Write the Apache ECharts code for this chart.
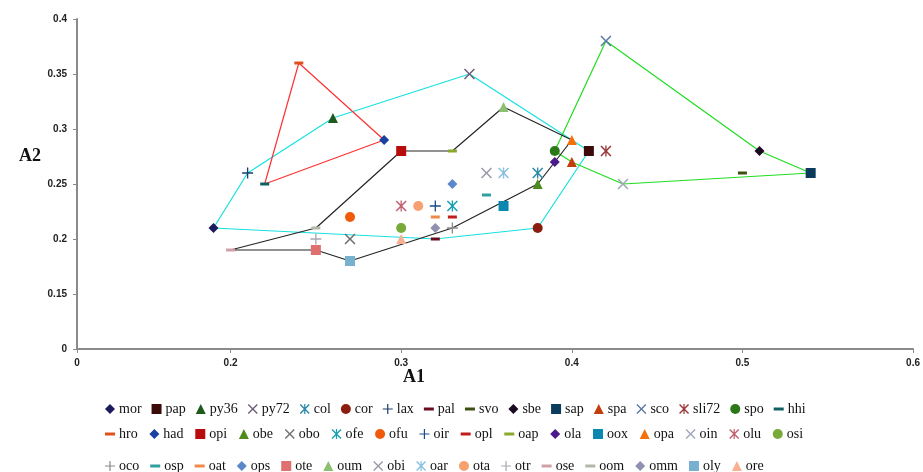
<!DOCTYPE html>
<html><head><meta charset="utf-8">
<script src="https://cdn.jsdelivr.net/npm/echarts@6/dist/echarts.min.js"></script>
<style>html,body{margin:0;padding:0;background:#fff}#c{width:923px;height:472px}</style>
</head><body><div id="c"></div>
<script>
// ---- data ----
const species = ['mor','pap','py36','py72','col','cor','lax','pal','svo','sbe','sap','spa','sco','sli72','spo','hhi',
 'hro','had','opi','obe','obo','ofe','ofu','oir','opl','oap','ola','oox','opa','oin','olu','osi',
 'oco','osp','oat','ops','ote','oum','obi','oar','ota','otr','ose','oom','omm','oly','ore'];
const a1 = [0.19,0.41,0.26,0.34,0.38,0.38,0.21,0.32,0.50,0.51,0.54,0.40,0.42,0.42,0.39,0.22,
 0.24,0.29,0.30,0.38,0.27,0.33,0.27,0.32,0.33,0.33,0.39,0.36,0.40,0.43,0.30,0.30,
 0.33,0.35,0.32,0.33,0.25,0.36,0.35,0.36,0.31,0.25,0.20,0.25,0.32,0.27,0.30];
const a2 = [0.21,0.28,0.31,0.35,0.26,0.21,0.26,0.20,0.26,0.28,0.26,0.27,0.38,0.28,0.28,0.25,
 0.36,0.29,0.28,0.25,0.20,0.23,0.22,0.23,0.22,0.28,0.27,0.23,0.29,0.25,0.23,0.21,
 0.21,0.24,0.22,0.25,0.19,0.32,0.26,0.26,0.23,0.20,0.19,0.21,0.21,0.18,0.20];
const shapes = ['diamond','square','triangle','x','asterisk','circle','plus','dash','dash','diamond','square','triangle','x','asterisk','circle','dash',
 'dash','diamond','square','triangle','x','asterisk','circle','plus','dash','dash','diamond','square','triangle','x','asterisk','circle',
 'plus','dash','dash','diamond','square','triangle','x','asterisk','circle','plus','dash','dash','diamond','square','triangle'];
const colors = ['#1c1c5c','#3d0a0a','#1e5a1e','#6e6078','#2a8aa8','#8b1c10','#1c3c6c','#6a0c1c','#3c5012','#1a0a24','#0c3c5c','#c43c0c','#5a7aa8','#9a3838','#2a7818','#106060',
 '#e0501c','#1a40a0','#b80c0c','#4c8c1c','#707070','#18a0b0','#f05a0a','#1a4c8c','#c01c1c','#8aa82a','#4a1a8a','#0a88b0','#f5700a','#a0a8b8','#c06070','#78aa38',
 '#8a8a8a','#30a0a0','#f08a48','#5a88c8','#e07070','#8cc070','#9a9aa8','#88c0e0','#f8a070','#a8a8b0','#d0a0a8','#b0b8a8','#9090b0','#78b0d0','#f8b090'];
const legendRows = [species.slice(0,16), species.slice(16,32), species.slice(32)];
const hulls = [
  {color:'#18e0e0', members:['mor','lax','py36','py72','pap','cor','pal','mor']},
  {color:'#ff3030', members:['hro','had','hhi','hro']},
  {color:'#20dd20', members:['sco','sbe','sap','oin','spa','spo','sco']},
  {color:'#252525', members:['ose','oom','opi','oap','oum','opa','ola','obe','oco','oly','ote','ose']}
];
const xTicks = [0.11,0.2,0.3,0.4,0.5,0.6];
const yTicks = [0.1,0.15,0.2,0.25,0.3,0.35,0.4];

// ---- symbols ----
const SYM = {
  diamond:{s:'diamond', size:10},
  square:{s:'rect', size:10},
  triangle:{s:'triangle', size:10},
  circle:{s:'circle', size:10},
  x:{s:'path://M1,0L5,4L9,0L10,1L6,5L10,9L9,10L5,6L1,10L0,9L4,5L0,1Z', size:11},
  plus:{s:'path://M4.4,0H5.6V4.4H10V5.6H5.6V10H4.4V5.6H0V4.4H4.4Z', size:11},
  asterisk:{s:'path://M1,0L5,4L9,0L10,1L6,5L10,9L9,10L5,6L1,10L0,9L4,5L0,1Z M4.4,0H5.6V10H4.4Z', size:11},
  dash:{s:'path://M0,0H10V3H0Z', size:[9,3]}
};

const idx = {}; species.forEach((n,i)=>idx[n]=i);
const series = [];
hulls.forEach(h=>{
  series.push({type:'line', silent:true, symbol:'none', z:1, animation:false,
    lineStyle:{color:h.color, width:1.2},
    data:h.members.map(n=>[a1[idx[n]], a2[idx[n]]])});
});
species.forEach((n,i)=>{
  const sy = SYM[shapes[i]];
  series.push({type:'scatter', name:n, z:3, animation:false,
    symbol:sy.s, symbolSize:sy.size, symbolKeepAspect:false,
    itemStyle:{color:colors[i], opacity:1},
    data:[[a1[i], a2[i]]]});
});

const legendBase = {orient:'horizontal', left:100, itemWidth:10, itemHeight:10,
  textStyle:{fontFamily:'Liberation Serif', fontSize:14, color:'#111', padding:[0,0,0,-1]}, selectedMode:false};
const tops = [397, 422, 454];
const gaps = [10, 11.7, 11];
const legends = legendRows.map((r,k)=>Object.assign({}, legendBase, {data:r, top:tops[k], itemGap:gaps[k]}));

const lblX = v => Math.abs(v-0.11)<1e-6 ? '0' : String(+v.toFixed(2));
const lblY = v => Math.abs(v-0.1)<1e-6 ? '0' : String(+v.toFixed(2));
const axisCommon = {
  axisLine:{show:true, lineStyle:{color:'#8a8a8a', width:2}},
  axisTick:{show:true, length:4, lineStyle:{color:'#8a8a8a', width:1}},
  splitLine:{show:false}
};
const chart = echarts.init(document.getElementById('c'), null, {renderer:'canvas'});
chart.setOption({
  backgroundColor:'#fff',
  animation:false,
  grid:{left:77, right:9, top:19, bottom:123, containLabel:false},
  legend: legends,
  xAxis: Object.assign({type:'value', min:0.11, max:0.6}, axisCommon, {
    axisTick:Object.assign({}, axisCommon.axisTick, {customValues:xTicks}),
    axisLabel:{customValues:xTicks, formatter:lblX, fontFamily:'Liberation Sans Narrow, Liberation Sans', fontWeight:'bold', fontSize:10, color:'#222', margin:9}
  }),
  yAxis: Object.assign({type:'value', min:0.1, max:0.4}, axisCommon, {
    axisTick:Object.assign({}, axisCommon.axisTick, {customValues:yTicks}),
    axisLabel:{customValues:yTicks, formatter:lblY, fontFamily:'Liberation Sans', fontWeight:'bold', fontSize:10, color:'#222', margin:10}
  }),
  graphic:[
    {type:'text', left:19, top:147, style:{text:'A2', font:'bold 18px "Liberation Serif"', fill:'#111'}},
    {type:'text', left:403, top:368, style:{text:'A1', font:'bold 18px "Liberation Serif"', fill:'#111'}}
  ],
  series: series
});
</script></body></html>
